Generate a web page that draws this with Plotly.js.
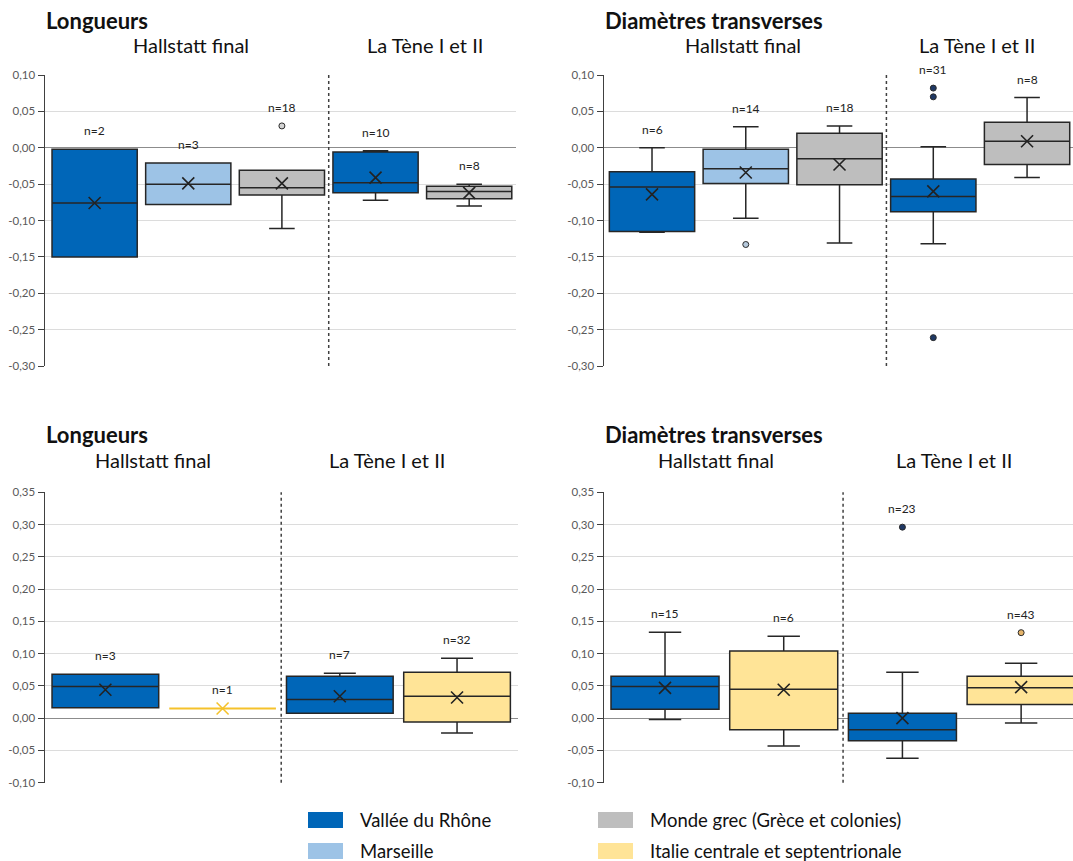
<!DOCTYPE html>
<html><head><meta charset="utf-8">
<script src="https://cdn.plot.ly/plotly-3.0.1.min.js"></script>
<style>html,body{margin:0;padding:0;background:#fff}#chart{width:1073px;height:861px}</style>
</head><body><div id="chart"></div>
<script>
// ---------- DATA ----------
const regions = ['Vallée du Rhône', 'Marseille', 'Monde grec (Grèce et colonies)', 'Italie centrale et septentrionale'];
const periods = ['Hallstatt final', 'La Tène I et II'];

// Panel A : Longueurs (haut)
const A_title = 'Longueurs';
const A_region = [0, 1, 2, 0, 2];
const A_period = [0, 0, 0, 1, 1];
const A_n = [2, 3, 18, 10, 8];
const A_q1 = [-0.150, -0.078, -0.065, -0.062, -0.070];
const A_med = [-0.076, -0.050, -0.055, -0.048, -0.060];
const A_q3 = [-0.002, -0.021, -0.031, -0.006, -0.053];
const A_lo = [-0.150, -0.078, -0.111, -0.072, -0.080];
const A_hi = [-0.002, -0.021, -0.031, -0.004, -0.050];
const A_mean = [-0.076, -0.049, -0.049, -0.041, -0.062];
const A_outX = [2];
const A_outY = [0.030];

// Panel B : Diamètres transverses (haut)
const B_title = 'Diamètres transverses';
const B_region = [0, 1, 2, 0, 2];
const B_period = [0, 0, 0, 1, 1];
const B_n = [6, 14, 18, 31, 8];
const B_q1 = [-0.115, -0.049, -0.051, -0.088, -0.023];
const B_med = [-0.054, -0.029, -0.015, -0.067, 0.009];
const B_q3 = [-0.033, -0.002, 0.020, -0.043, 0.035];
const B_lo = [-0.116, -0.097, -0.131, -0.132, -0.041];
const B_hi = [0.000, 0.029, 0.030, 0.0015, 0.069];
const B_mean = [-0.064, -0.034, -0.023, -0.060, 0.009];
const B_outX = [1, 3, 3, 3];
const B_outY = [-0.133, 0.082, 0.070, -0.261];

// Panel C : Longueurs (bas)
const C_title = 'Longueurs';
const C_region = [0, 3, 0, 3];
const C_period = [0, 0, 1, 1];
const C_n = [3, 1, 7, 32];
const C_q1 = [0.016, 0.015, 0.0075, -0.006];
const C_med = [0.049, 0.015, 0.029, 0.034];
const C_q3 = [0.068, 0.015, 0.065, 0.071];
const C_lo = [0.016, 0.015, 0.0075, -0.023];
const C_hi = [0.068, 0.015, 0.0695, 0.093];
const C_mean = [0.044, 0.015, 0.034, 0.032];
const C_outX = [];
const C_outY = [];

// Panel D : Diamètres transverses (bas)
const D_title = 'Diamètres transverses';
const D_region = [0, 3, 0, 3];
const D_period = [0, 0, 1, 1];
const D_n = [15, 6, 23, 43];
const D_q1 = [0.014, -0.018, -0.035, 0.021];
const D_med = [0.049, 0.045, -0.018, 0.047];
const D_q3 = [0.065, 0.104, 0.0075, 0.065];
const D_lo = [-0.002, -0.043, -0.062, -0.0075];
const D_hi = [0.133, 0.127, 0.071, 0.085];
const D_mean = [0.047, 0.044, 0.000, 0.048];
const D_outX = [2, 3];
const D_outY = [0.296, 0.1325];

// ---------- STYLE ----------
const W = 1073, H = 861;
const FONT = 'Lato, "Open Sans", sans-serif';
const fillColors = ['#0066B8', '#9DC3E6', '#BEBEBE', '#FFE497'];
const singleColors = ['#0066B8', '#9DC3E6', '#BEBEBE', '#F5C22B'];
const outFill = ['#1F3864', '#B5C9DC', '#D4D4D4', '#E5B46A'];
const edge = '#262626';
const px = x => x / W;
const py = y => 1 - y / H;

const panels = [
  {t: A_title, region: A_region, period: A_period, n: A_n, q1: A_q1, med: A_med, q3: A_q3, lo: A_lo, hi: A_hi, mean: A_mean, ox: A_outX, oy: A_outY,
   xd: [45, 516], xr: [-0.53, 4.5], yd: [366, 75], yr: [-0.30, 0.10], titleY: 20, perY: 45, perShift: 3},
  {t: B_title, region: B_region, period: B_period, n: B_n, q1: B_q1, med: B_med, q3: B_q3, lo: B_lo, hi: B_hi, mean: B_mean, ox: B_outX, oy: B_outY,
   xd: [604, 1073], xr: [-0.512, 4.49], yd: [366, 75], yr: [-0.30, 0.10], titleY: 20, perY: 45, perShift: -3},
  {t: C_title, region: C_region, period: C_period, n: C_n, q1: C_q1, med: C_med, q3: C_q3, lo: C_lo, hi: C_hi, mean: C_mean, ox: C_outX, oy: C_outY,
   xd: [45, 518], xr: [-0.515, 3.52], yd: [782.7, 492.3], yr: [-0.10, 0.35], titleY: 435, perY: 460, perShift: -11},
  {t: D_title, region: D_region, period: D_period, n: D_n, q1: D_q1, med: D_med, q3: D_q3, lo: D_lo, hi: D_hi, mean: D_mean, ox: D_outX, oy: D_outY,
   xd: [604, 1073], xr: [-0.514, 3.437], yd: [782.7, 492.3], yr: [-0.10, 0.35], titleY: 435, perY: 460, perShift: -8}
];

const traces = [];
const layout = {
  width: W, height: H, margin: {l: 0, r: 0, t: 0, b: 0},
  paper_bgcolor: '#fff', plot_bgcolor: '#fff', showlegend: false,
  font: {family: FONT, color: '#222'}, boxmode: 'overlay',
  annotations: [], shapes: []
};

panels.forEach((p, k) => {
  const sfx = k === 0 ? '' : String(k + 1);
  const xa = 'x' + sfx, ya = 'y' + sfx;
  const kMin = Math.round(p.yr[0] * 20), kMax = Math.round(p.yr[1] * 20);
  const tv = [], tt = [];
  for (let i = kMin; i <= kMax; i++) { tv.push(i / 20); tt.push((i / 20).toFixed(2).replace('.', ',').replace(/^-0,00$/, '0,00')); }
  layout['xaxis' + sfx] = {domain: [px(p.xd[0]), px(p.xd[1])], range: p.xr, anchor: ya,
    showgrid: false, zeroline: false, showticklabels: false, ticks: '', showline: false, fixedrange: true};
  layout['yaxis' + sfx] = {domain: [py(p.yd[0]), py(p.yd[1])], range: p.yr, anchor: xa,
    tickvals: tv, ticktext: tt, ticks: 'outside', ticklen: 6, tickcolor: '#404040', tickwidth: 1,
    showline: true, linecolor: '#404040', linewidth: 1.5, showgrid: true, gridcolor: '#dcdcdc', gridwidth: 1,
    zeroline: true, zerolinecolor: '#8c8c8c', zerolinewidth: 1, tickfont: {family: FONT, size: 11.5, color: '#5a5a5a'},
    fixedrange: true};

  const idx = p.n.map((_, i) => i);
  idx.forEach(i => {
    const single = p.q1[i] === p.q3[i];
    const r = p.region[i];
    traces.push({type: 'box', xaxis: xa, yaxis: ya, x: [i],
      q1: [p.q1[i]], median: [p.med[i]], q3: [p.q3[i]], lowerfence: [p.lo[i]], upperfence: [p.hi[i]],
      width: 0.91, whiskerwidth: 0.3, fillcolor: single ? singleColors[r] : fillColors[r],
      line: {color: single ? singleColors[r] : edge, width: single ? 2 : 1.5},
      hoverinfo: 'skip', showlegend: false});
    traces.push({type: 'scatter', mode: 'markers', xaxis: xa, yaxis: ya, x: [i], y: [p.mean[i]],
      marker: {symbol: 'x-thin', size: 12, line: {color: single ? singleColors[r] : '#222', width: 1.6}},
      hoverinfo: 'skip', showlegend: false, cliponaxis: false});
    let top = p.hi[i];
    p.ox.forEach((ox, j) => { if (ox === i && p.oy[j] > top) top = p.oy[j]; });
    layout.annotations.push({xref: xa, yref: ya, x: i, y: top, yanchor: 'bottom', yshift: 9,
      text: 'n=' + p.n[i], showarrow: false, font: {family: FONT, size: 12, color: '#222'}});
  });
  if (p.ox.length) {
    traces.push({type: 'scatter', mode: 'markers', xaxis: xa, yaxis: ya, x: p.ox, y: p.oy,
      marker: {size: 6, color: p.ox.map(i => outFill[p.region[i]]), line: {color: '#2a2a2a', width: 1}},
      hoverinfo: 'skip', showlegend: false, cliponaxis: false});
  }
  const nFirst = p.period.filter(v => v === 0).length;
  layout.shapes.push({type: 'line', xref: xa, yref: ya + ' domain', x0: nFirst - 0.5, x1: nFirst - 0.5, y0: 0, y1: 1,
    line: {color: '#404040', width: 1.5, dash: '3px,3px'}});
  layout.annotations.push({xref: 'paper', yref: 'paper', x: px(p.xd[0] - 1), y: py(p.titleY), xanchor: 'left', yanchor: 'middle',
    text: '<b>' + p.t + '</b>', showarrow: false, font: {family: FONT, size: 22, color: '#111'}});
  periods.forEach((name, pi) => {
    const members = idx.filter(i => p.period[i] === pi);
    const c = (members[0] + members[members.length - 1]) / 2;
    layout.annotations.push({xref: xa, yref: 'paper', x: c, y: py(p.perY), xanchor: 'center', yanchor: 'middle', xshift: p.perShift,
      text: name, showarrow: false, font: {family: FONT, size: 20, color: '#111'}});
  });
});

// legend
const legPos = [[308, 820], [308, 851], [598, 820], [598, 851]];
[0, 1, 2, 3].forEach((r, j) => {
  const [lx, ly] = legPos[j];
  layout.shapes.push({type: 'rect', xref: 'paper', yref: 'paper', x0: px(lx), x1: px(lx + 35), y0: py(ly + 8), y1: py(ly - 8),
    fillcolor: fillColors[r], line: {width: 0}});
  layout.annotations.push({xref: 'paper', yref: 'paper', x: px(lx + 50), y: py(ly), xanchor: 'left', yanchor: 'middle',
    text: regions[r], showarrow: false, font: {family: FONT, size: 18.5, color: '#111'}});
});

Plotly.newPlot('chart', traces, layout, {staticPlot: true, displayModeBar: false});
</script></body></html>
